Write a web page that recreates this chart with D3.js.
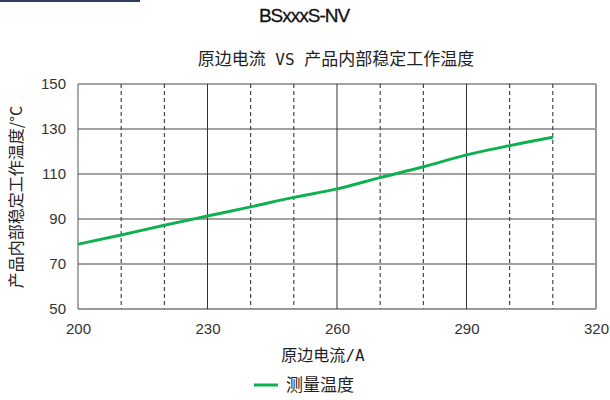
<!DOCTYPE html>
<html><head><meta charset="utf-8">
<script src="https://cdn.jsdelivr.net/npm/d3@7"></script>
<style>body{margin:0;background:#fff;} svg{display:block;}</style>
</head><body>
<svg id="c" width="610" height="400"></svg>
<script>
const current = [200,210,220,230,240,250,260,270,280,290,300,310];
const temperature = [78.8,82.9,87.2,91.3,95.4,99.6,103.4,108.4,113.2,118.5,122.6,126.3];
const xTicks = [200,230,260,290,320];
const xMinor = [210,220,240,250,270,280,300,310];
const yTicks = [50,70,90,110,130,150];
const chartTitle = "BSxxxS-NV";
const subTitleParts = ["原边电流", " VS ", "产品内部稳定工作温度"];
const xLabelParts = ["原边电流", "/A"];
const yLabel = "产品内部稳定工作温度/°C";
const seriesName = "测量温度";

const svg = d3.select("#c");
const m = {l:78, r:596, t:84, b:309};
const x = d3.scaleLinear().domain([200,320]).range([m.l, m.r]);
const y = d3.scaleLinear().domain([50,150]).range([m.b, m.t]);
const cjk = "'Noto Sans CJK SC','Noto Sans',sans-serif";
const mono = "'DejaVu Sans Mono','Liberation Mono',monospace";

svg.append("rect").attr("x",0).attr("y",0).attr("width",140).attr("height",2).attr("fill","#2e3d5c");

svg.append("text").attr("x",304).attr("y",22).attr("text-anchor","middle")
  .attr("font-family","'Liberation Sans',Arial,sans-serif").attr("font-size",19)
  .attr("letter-spacing","-1.0").attr("stroke","#111").attr("stroke-width",0.3)
  .attr("fill","#111").text(chartTitle);

const st = svg.append("text").attr("x",336).attr("y",65).attr("text-anchor","middle")
  .attr("font-family",cjk).attr("font-size",17).attr("fill","#222")
  .attr("xml:space","preserve").style("white-space","pre");
subTitleParts.forEach((p,i)=>{
  const t = st.append("tspan").text(p);
  if(i===1) t.attr("font-family",mono).attr("font-size",16);
});

// minor dashed verticals
svg.append("g").selectAll("line").data(xMinor).join("line")
  .attr("x1",d=>x(d)).attr("x2",d=>x(d)).attr("y1",m.t).attr("y2",m.b)
  .attr("stroke","#222").attr("stroke-width",1).attr("stroke-dasharray","4,3");

// horizontal grid
svg.append("g").selectAll("line").data(yTicks).join("line")
  .attr("x1",m.l).attr("x2",m.r).attr("y1",d=>y(d)).attr("y2",d=>y(d))
  .attr("stroke",d=>d===50?"#777":"#444").attr("stroke-width",d=>d===50?1.5:1);

// major verticals
svg.append("g").selectAll("line").data(xTicks).join("line")
  .attr("x1",d=>x(d)).attr("x2",d=>x(d)).attr("y1",m.t).attr("y2",m.b)
  .attr("stroke",d=>d===320?"#999":(d===200?"#555":"#333"))
  .attr("stroke-width",d=>d===320?2:1);

// axes labels via d3 axes
const xa = svg.append("g").attr("transform",`translate(0,${m.b})`)
  .call(d3.axisBottom(x).tickValues(xTicks).tickSize(0).tickPadding(14));
xa.select(".domain").remove();
xa.selectAll("text").attr("font-family","'Liberation Sans',Arial,sans-serif").attr("font-size",15).attr("fill","#333");
const ya = svg.append("g").attr("transform",`translate(${m.l},0)`)
  .call(d3.axisLeft(y).tickValues(yTicks).tickSize(0).tickPadding(12));
ya.select(".domain").remove();
ya.selectAll("text").attr("font-family","'Liberation Sans',Arial,sans-serif").attr("font-size",15).attr("fill","#333");

// line
const line = d3.line().x((d,i)=>x(current[i])).y(d=>y(d)).curve(d3.curveMonotoneX);
svg.append("path").datum(temperature).attr("d",line).attr("fill","none")
  .attr("stroke","#0fb04f").attr("stroke-width",3);

// axis titles
const xt = svg.append("text").attr("x",323).attr("y",361).attr("text-anchor","middle")
  .attr("font-family",cjk).attr("font-size",16).attr("fill","#222");
xLabelParts.forEach((p,i)=>{
  const t = xt.append("tspan").text(p);
  if(i===1) t.attr("font-family",mono).attr("font-size",16);
});
svg.append("text").attr("transform","translate(22,197) rotate(-90)").attr("text-anchor","middle")
  .attr("font-family",cjk).attr("font-size",16).attr("fill","#222").text(yLabel);

// legend
svg.append("line").attr("x1",254).attr("x2",278).attr("y1",385).attr("y2",385)
  .attr("stroke","#0fb04f").attr("stroke-width",3);
svg.append("text").attr("x",286).attr("y",391).attr("font-family",cjk).attr("font-size",17)
  .attr("fill","#222").text(seriesName);
</script>
</body></html>
